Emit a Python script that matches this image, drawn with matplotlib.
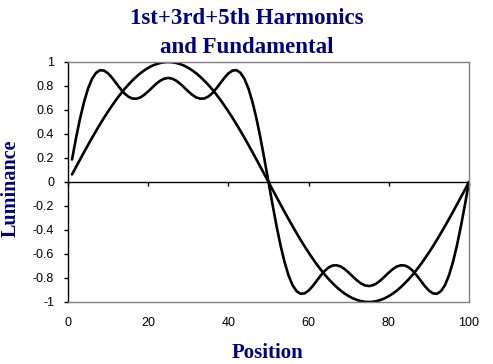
import matplotlib
matplotlib.use("Agg")
from matplotlib import pyplot as plt

# positions along the x axis
position = list(range(1, 101))

# fundamental (1st harmonic)
fundamental = [0.063, 0.125, 0.187, 0.249, 0.309, 0.368, 0.426, 0.482, 0.536, 0.588,
               0.637, 0.685, 0.729, 0.771, 0.809, 0.844, 0.876, 0.905, 0.930, 0.951,
               0.969, 0.982, 0.992, 0.998, 1.000, 0.998, 0.992, 0.982, 0.969, 0.951,
               0.930, 0.905, 0.876, 0.844, 0.809, 0.771, 0.729, 0.685, 0.637, 0.588,
               0.536, 0.482, 0.426, 0.368, 0.309, 0.249, 0.187, 0.125, 0.063, 0.000,
               -0.063, -0.125, -0.187, -0.249, -0.309, -0.368, -0.426, -0.482, -0.536, -0.588,
               -0.637, -0.685, -0.729, -0.771, -0.809, -0.844, -0.876, -0.905, -0.930, -0.951,
               -0.969, -0.982, -0.992, -0.998, -1.000, -0.998, -0.992, -0.982, -0.969, -0.951,
               -0.930, -0.905, -0.876, -0.844, -0.809, -0.771, -0.729, -0.685, -0.637, -0.588,
               -0.536, -0.482, -0.426, -0.368, -0.309, -0.249, -0.187, -0.125, -0.063, 0.000]

# 1st+3rd+5th harmonics summed
harmonics = [0.187, 0.366, 0.528, 0.667, 0.779, 0.860, 0.910, 0.932, 0.928, 0.905,
             0.868, 0.824, 0.780, 0.741, 0.712, 0.696, 0.694, 0.704, 0.726, 0.755,
             0.787, 0.818, 0.844, 0.861, 0.867, 0.861, 0.844, 0.818, 0.787, 0.755,
             0.726, 0.704, 0.694, 0.696, 0.712, 0.741, 0.780, 0.824, 0.868, 0.905,
             0.928, 0.932, 0.910, 0.860, 0.779, 0.667, 0.528, 0.366, 0.187, 0.000,
             -0.187, -0.366, -0.528, -0.667, -0.779, -0.860, -0.910, -0.932, -0.928, -0.905,
             -0.868, -0.824, -0.780, -0.741, -0.712, -0.696, -0.694, -0.704, -0.726, -0.755,
             -0.787, -0.818, -0.844, -0.861, -0.867, -0.861, -0.844, -0.818, -0.787, -0.755,
             -0.726, -0.704, -0.694, -0.696, -0.712, -0.741, -0.780, -0.824, -0.868, -0.905,
             -0.928, -0.932, -0.910, -0.860, -0.779, -0.667, -0.528, -0.366, -0.187, 0.000]

x_ticks = [0, 20, 40, 60, 80, 100]
y_ticks = [-1, -0.8, -0.6, -0.4, -0.2, 0, 0.2, 0.4, 0.6, 0.8, 1]

navy = "#000080"
serif = ["Liberation Serif", "DejaVu Serif"]
sans = ["Liberation Sans", "DejaVu Sans"]

fig = plt.figure(figsize=(4.93, 3.64), dpi=100, facecolor="white")
ax = fig.add_axes([68/493, 62/364, 401/493, 240/364])

ax.plot(position, harmonics, color="black", lw=1.9, solid_joinstyle="round", solid_capstyle="round")
ax.plot(position, fundamental, color="black", lw=1.9, solid_joinstyle="round", solid_capstyle="round")
ax.axhline(0, color="black", lw=1.0, zorder=1)

ax.set_xlim(0, 100)
ax.set_ylim(-1, 1)
ax.set_xticks(x_ticks)
ax.set_xticklabels([str(v) for v in x_ticks], fontfamily=sans, fontsize=9)
ax.set_yticks(y_ticks)
ax.set_yticklabels([f"{v:g}" for v in y_ticks], fontfamily=sans, fontsize=9)
ax.tick_params(axis="x", length=0, pad=11)
ax.tick_params(axis="y", length=3, width=1, direction="out", pad=7)

for s in ("top", "right", "bottom"):
    ax.spines[s].set_color("#808080")
    ax.spines[s].set_linewidth(1.0)
ax.spines["left"].set_color("black")
ax.spines["left"].set_linewidth(1.0)

# tick marks on the zero line
zx = ax.secondary_xaxis(0.5)
zx.set_xticks(x_ticks)
zx.tick_params(axis="x", direction="in", length=3, width=1, labelbottom=False, labeltop=False)
zx.spines["bottom"].set_visible(False)
zx.spines["top"].set_visible(False)

fig.text(0.5, 1 - 24/364, "1st+3rd+5th Harmonics", ha="center", va="baseline",
         fontfamily=serif, fontweight="bold", fontsize=16.5, color=navy)
fig.text(0.5, 1 - 53/364, "and Fundamental", ha="center", va="baseline",
         fontfamily=serif, fontweight="bold", fontsize=16.5, color=navy)
fig.text(11/493, 1 - 188/364, "Luminance", rotation=90, ha="center", va="center",
         fontfamily=serif, fontweight="bold", fontsize=14.5, color=navy)
fig.text(267/493, 1 - 353/364, "Position", ha="center", va="center",
         fontfamily=serif, fontweight="bold", fontsize=15, color=navy)

fig.savefig("out.png", dpi=100, facecolor="white")
